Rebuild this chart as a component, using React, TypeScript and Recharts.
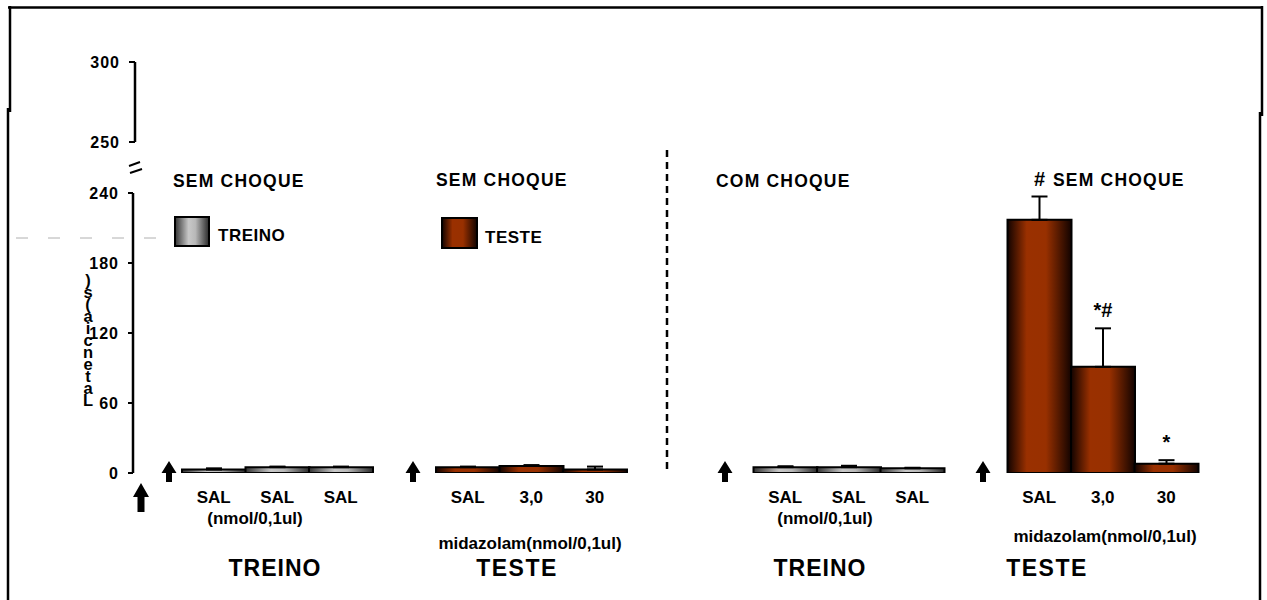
import React from 'react';
import { BarChart, Bar, XAxis, YAxis, Cell, ErrorBar, LabelList } from 'recharts';

// ---- data ----
const categories = ['t1', 't2', 't3', 'gap1', 'e1', 'e2', 'e3', 'gap2', 'gap3', 'c1', 'c2', 'c3', 'gap4', 's1', 's2', 's3'];
const tickLabels = ['SAL', 'SAL', 'SAL', '', 'SAL', '3,0', '30', '', '', 'SAL', 'SAL', 'SAL', '', 'SAL', '3,0', '30'];
const latency: (number | null)[] = [3, 5, 5, null, 5, 6, 3, null, null, 5, 5, 4, null, 217, 91, 8];
const sem: (number | null)[] = [1, 0.5, 0.5, null, 0.5, 0.8, 2.5, null, null, 0.8, 1.2, 0.5, null, 20, 33, 3];
const session = ['treino', 'treino', 'treino', '', 'teste', 'teste', 'teste', '', '', 'treino', 'treino', 'treino', '', 'teste', 'teste', 'teste'];
const signif = ['', '', '', '', '', '', '', '', '', '', '', '', '', '#', '*#', '*'];
const lowerTicks = [0, 60, 120, 180, 240];
const upperTicks = [250, 300];
const yLabelStacked = ')s(aicnetaL';

const data = categories.map((key, i) => ({
  key,
  idx: i,
  value: latency[i],
  err: latency[i] == null ? null : [0, sem[i] as number],
}));

const FONT = '"Liberation Sans", Arial, Helvetica, sans-serif';

const CatTick = (props: any) => {
  const { x, payload } = props;
  const i = categories.indexOf(payload.value);
  const label = i >= 0 ? tickLabels[i] : '';
  if (!label) return null;
  return (
    <text x={x} y={503} textAnchor="middle" fontFamily={FONT} fontWeight={700} fontSize={17} fill="#000">
      {label}
    </text>
  );
};

const SigLabel = (props: any) => {
  const { x, y, width, height, value } = props;
  const i = Number(value);
  const s = signif[i];
  const v = latency[i];
  const e = sem[i];
  if (!s || v == null || e == null || !height) return null;
  const pxPerUnit = height / v;
  const errTop = y - e * pxPerUnit;
  return (
    <text x={x + width / 2} y={errTop - 11} textAnchor="middle" fontFamily={FONT} fontWeight={700} fontSize={20} fill="#000">
      {s}
    </text>
  );
};

const txt = (x: number, y: number, s: string, size: number, anchor: 'start' | 'middle' | 'end' = 'start', ls = 0) => (
  <text x={x} y={y} textAnchor={anchor} fontFamily={FONT} fontWeight={700} fontSize={size} letterSpacing={ls} fill="#000">
    {s}
  </text>
);

const arrowSmall = (cx: number) => (
  <path d={`M${cx - 7.5},473 L${cx},461 L${cx + 7.5},473 L${cx + 3},473 L${cx + 3},482 L${cx - 3},482 L${cx - 3},473 Z`} fill="#000" />
);

export default function App() {
  const tickStyle = { fill: '#000', fontSize: 16, fontWeight: 700, fontFamily: FONT, letterSpacing: 1 };
  return (
    <div style={{ position: 'absolute', left: 0, top: 0, width: 1267, height: 600, background: '#fff', overflow: 'hidden' }}>
      <svg width={0} height={0} style={{ position: 'absolute' }}>
        <defs>
          <linearGradient id="gradGray" x1="0" y1="0" x2="1" y2="0">
            <stop offset="0" stopColor="#333" />
            <stop offset="0.4" stopColor="#c8c8c8" />
            <stop offset="0.6" stopColor="#b8b8b8" />
            <stop offset="1" stopColor="#2a2a2a" />
          </linearGradient>
          <linearGradient id="gradRust" x1="0" y1="0" x2="1" y2="0">
            <stop offset="0" stopColor="#120300" />
            <stop offset="0.3" stopColor="#9a3000" />
            <stop offset="0.6" stopColor="#983000" />
            <stop offset="1" stopColor="#120300" />
          </linearGradient>
        </defs>
      </svg>

      <div style={{ position: 'absolute', left: 0, top: 0 }}>
        <BarChart width={1267} height={600} data={data} margin={{ top: 193, right: 69, bottom: 97, left: 73 }} barCategoryGap={0}>
          <XAxis dataKey="key" axisLine={false} tickLine={false} height={30} padding={{ left: 49, right: 0 }} interval={0} tick={<CatTick />} />
          <YAxis
            domain={[0, 240]}
            ticks={lowerTicks}
            width={60}
            allowDataOverflow
            axisLine={{ stroke: '#000', strokeWidth: 2.5 }}
            tickLine={{ stroke: '#000', strokeWidth: 2 }}
            tickSize={5}
            tickMargin={9}
            tick={tickStyle}
          />
          <Bar dataKey="value" isAnimationActive={false} stroke="#000" strokeWidth={2}>
            {data.map((d, i) => (
              <Cell key={d.key} fill={session[i] === 'teste' ? 'url(#gradRust)' : 'url(#gradGray)'} />
            ))}
            <ErrorBar dataKey="err" width={8} stroke="#000" strokeWidth={2} direction="y" isAnimationActive={false} />
            <LabelList dataKey="idx" content={<SigLabel />} />
          </Bar>
        </BarChart>
      </div>

      <div style={{ position: 'absolute', left: 0, top: 0 }}>
        <BarChart width={200} height={160} data={[{ key: 'u', value: null }]} margin={{ top: 62, right: 10, bottom: 18, left: 75 }}>
          <XAxis dataKey="key" hide />
          <YAxis
            domain={[250, 300]}
            ticks={upperTicks}
            width={60}
            allowDataOverflow
            axisLine={{ stroke: '#000', strokeWidth: 2.5 }}
            tickLine={{ stroke: '#000', strokeWidth: 2 }}
            tickSize={6}
            tickMargin={9}
            tick={tickStyle}
          />
          <Bar dataKey="value" isAnimationActive={false} />
        </BarChart>
      </div>

      <svg width={1267} height={600} style={{ position: 'absolute', left: 0, top: 0, pointerEvents: 'none' }}>
        {/* frame */}
        <line x1={8} y1={7.5} x2={1263} y2={7.5} stroke="#000" strokeWidth={2.5} />
        <line x1={10} y1={6} x2={10} y2={112} stroke="#000" strokeWidth={2.5} />
        <line x1={8} y1={108} x2={8} y2={600} stroke="#000" strokeWidth={2.5} />
        <line x1={1262} y1={6} x2={1262} y2={116} stroke="#000" strokeWidth={2.5} />
        <line x1={1260} y1={112} x2={1260} y2={600} stroke="#000" strokeWidth={2.5} />
        <line x1={16} y1={238} x2={174} y2={238} stroke="#b0b0b0" strokeWidth={1} strokeDasharray="12 20" />

        {/* axis break */}
        <line x1={129} y1={166} x2={140} y2={162} stroke="#000" strokeWidth={2} />
        <line x1={130} y1={173} x2={142} y2={169} stroke="#000" strokeWidth={2} />

        {/* y label (stacked, upright characters) */}
        <text
          x={88}
          y={271}
          fontFamily={FONT}
          fontWeight={700}
          fontSize={16.5}
          fill="#000"
          letterSpacing={-6}
          style={{ writingMode: 'vertical-rl', textOrientation: 'upright' } as any}
        >
          {yLabelStacked}
        </text>

        {/* divider */}
        <line x1={667} y1={150} x2={667} y2={470} stroke="#000" strokeWidth={2.5} strokeDasharray="7 5" />

        {/* titles */}
        {txt(173, 187, 'SEM CHOQUE', 17.5, 'start', 1.2)}
        {txt(436, 185.5, 'SEM CHOQUE', 17.5, 'start', 1.2)}
        {txt(716, 187, 'COM CHOQUE', 17.5, 'start', 1.2)}
        {txt(1053, 185.5, 'SEM CHOQUE', 17.5, 'start', 1.2)}

        {/* legend */}
        <rect x={175} y={217} width={34} height={29} fill="url(#gradGray)" stroke="#000" strokeWidth={2} />
        {txt(218, 241, 'TREINO', 17, 'start', 0.5)}
        <rect x={442} y={218} width={35} height={30} fill="url(#gradRust)" stroke="#000" strokeWidth={2} />
        {txt(485, 243, 'TESTE', 17, 'start', 0.5)}

        {/* sub labels */}
        {txt(255, 524, '(nmol/0,1ul)', 17, 'middle')}
        {txt(825, 524, '(nmol/0,1ul)', 17, 'middle')}
        {txt(530, 549, 'midazolam(nmol/0,1ul)', 17, 'middle')}
        {txt(1105, 542, 'midazolam(nmol/0,1ul)', 17, 'middle')}
        {txt(275, 576, 'TREINO', 23, 'middle', 1)}
        {txt(517, 576, 'TESTE', 23, 'middle', 1.5)}
        {txt(820, 576, 'TREINO', 23, 'middle', 1)}
        {txt(1047, 576, 'TESTE', 23, 'middle', 1.5)}

        {/* arrows */}
        <path d="M133,497 L141,483 L149,497 L144.5,497 L144.5,512 L137.5,512 L137.5,497 Z" fill="#000" />
        {arrowSmall(169)}
        {arrowSmall(413)}
        {arrowSmall(725)}
        {arrowSmall(983)}
      </svg>
    </div>
  );
}
